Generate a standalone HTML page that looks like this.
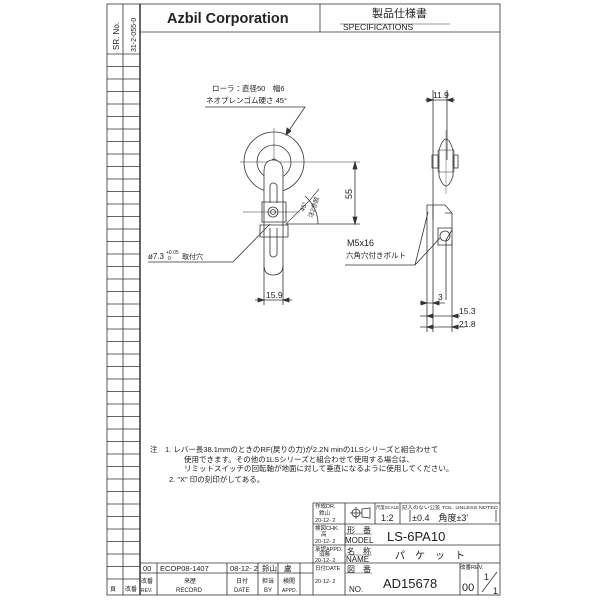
<!DOCTYPE html>
<html><head><meta charset="utf-8"><style>
html,body{margin:0;padding:0;background:#fff}
svg{display:block}
text{font-family:"Liberation Sans","Noto Sans CJK JP",sans-serif;fill:#222}
</style></head><body>
<svg width="600" height="600" viewBox="0 0 600 600" xmlns="http://www.w3.org/2000/svg">
<g stroke="#333" fill="none" stroke-width="0.8">
<rect x="107" y="4" width="393" height="591"/>
<line x1="140" y1="4" x2="140" y2="595" stroke-width="1.5"/>
<line x1="123" y1="4" x2="123" y2="595"/>
<line x1="140" y1="32" x2="500" y2="32"/>
<line x1="320" y1="4" x2="320" y2="32"/>
<line x1="340" y1="24" x2="450" y2="24" stroke-width="0.6"/>
<path d="M107 54H140M107 66.5H140M107 79H140M107 91.5H140M107 104H140M107 116.5H140M107 129H140M107 141.5H140M107 154H140M107 166.5H140M107 179H140M107 191.5H140M107 204H140M107 216.5H140M107 229H140M107 241.5H140M107 254H140M107 266.5H140M107 279H140M107 291.5H140M107 304H140M107 316.5H140M107 329H140M107 341.5H140M107 354H140M107 366.5H140M107 379H140M107 391.5H140M107 404H140M107 416.5H140M107 429H140M107 441.5H140M107 454H140M107 466.5H140M107 479H140M107 491.5H140M107 504H140M107 516.5H140M107 529H140M107 541.5H140M107 554H140M107 566.5H140M107 579H140"/>
<path d="M140 563H313M140 573H313M157 563V595M227 563V595M258 563V595M278 563V595M300 563V595"/>
<path d="M313 503H500M313 503V595M313 524H500M313 545H500M313 563H500M345 503V595M375 503V524M400 503V524M460 563V595M478 563V595M410 510V522M496 510V522"/>
<path d="M482 592L497 572" />
<path d="M345 534H372M345 555H372M345 573H372" stroke-width="0.5"/>
<circle cx="356" cy="513" r="4"/><path d="M350 513H362M356 507V519M362 509L370 508V518L362 517Z"/>

<circle cx="274" cy="162" r="30"/>
<circle cx="274" cy="162" r="17"/>
<circle cx="274" cy="162" r="3"/>
<path d="M240 162H360M274 128V180" stroke-width="0.5"/>
<path d="M264 172V265Q264 275 273 275Q283 275 283 265V172Q283 160 273 160Q264 160 264 172Z" fill="#fff"/>
<path d="M270 185V203M277 185V203M270 185Q273 181 277 185"/>
<path d="M262 202H286V222H262Z"/>
<circle cx="273" cy="212" r="5"/><circle cx="273" cy="212" r="2.5"/>
<path d="M260 225H288V237H260Z"/>
<path d="M270 228V255M277 228V255M270 255Q273 259 277 255"/>
<path d="M243 212H300" stroke-width="0.5"/>
<path d="M286 224H360M355 162V224"/>
<path d="M355 162l-2 7h4zM355 224l-2-7h4z" fill="#333"/>
<path d="M286 224L310 200M319 189L310 200" stroke-width="0.6"/>
<path d="M305 196Q318 208 318 224" />
<path d="M205 107H305L286 135"/>
<path d="M286 135l1-7 4 3z" fill="#333"/>
<path d="M148 262H233L270 224"/>
<path d="M264 265V305M283 265V305M255 300H292"/>
<path d="M264 300l-6-2v4zM283 300l6-2v4z" fill="#333"/>

<path d="M433 90V220M447 90V160M425 100H455"/>
<path d="M433 100l-6-2v4zM447 100l6-2v4z" fill="#333"/>
<path d="M439 150Q446 128 453 150V176Q446 196 439 176Z"/>
<path d="M438 150H454V172H438Z" stroke-width="0.5"/>
<path d="M432 155H438V168H432ZM454 155H458V168H454Z"/>
<path d="M446 130V194" stroke-width="0.4"/>
<path d="M427 205H445L452 213V230L446 240V300M427 205V300M433 205V300M452 213H445"/>
<path d="M438 228H452V245H438Z"/><circle cx="445" cy="236" r="5"/>
<path d="M345 265H415L428 212M415 265L440 238"/>
<path d="M427 300V332M433 300V332M452 240V332M420 303H445M420 316H460M420 327H465"/>
<path d="M427 303l-6-2v4zM433 303l6-2v4zM427 316l6-2v4zM452 316l6-2v4zM427 327l6-2v4zM452 327l6-2v4z" fill="#333"/>
</g>

<text x="167" y="23" font-size="14.5" font-weight="bold" fill="#111">Azbil Corporation</text>
<text x="372" y="17" font-size="11">製品仕様書</text>
<text x="343" y="30" font-size="8.5">SPECIFICATIONS</text>
<text transform="translate(119,50) rotate(-90)" font-size="8">SR. No.</text>
<text transform="translate(136,52) rotate(-90)" font-size="7">31-2-055-0</text>

<text x="212" y="91" font-size="7.5">ローラ：直径50　幅6</text>
<text x="206" y="103" font-size="7.5">ネオプレンゴム硬さ 45°</text>
<text transform="translate(352,199) rotate(-90)" font-size="9">55</text>
<text transform="translate(304,212) rotate(-70)" font-size="6.5">45°</text>
<text transform="translate(312,218) rotate(-70)" font-size="6">注2参照</text>
<text x="148" y="259" font-size="8">ø7.3</text>
<text x="166" y="254" font-size="5">+0.05</text>
<text x="168" y="260" font-size="5">0</text>
<text x="182" y="259" font-size="7">取付穴</text>
<text x="266" y="298" font-size="8.5">15.9</text>
<text x="433" y="98" font-size="8.5">11.9</text>
<text x="347" y="246" font-size="9">M5x16</text>
<text x="346" y="258" font-size="7.5">六角穴付きボルト</text>
<text x="438" y="300" font-size="8.5">3</text>
<text x="459" y="314" font-size="8.5">15.3</text>
<text x="459" y="327" font-size="8.5">21.8</text>

<g font-size="7.5">
<text x="150" y="452">注　1. レバー長38.1mmのときのRF(戻りの力)が2.2N minの1LSシリーズと組合わせて</text>
<text x="184" y="462">使用できます。その他の1LSシリーズと組合わせて使用する場合は、</text>
<text x="184" y="471">リミットスイッチの回転軸が地面に対して垂直になるように使用してください。</text>
<text x="169" y="482">2. "X" 印の刻印がしてある。</text>
</g>

<g font-size="7.5">
<text x="143" y="571">00</text>
<text x="160" y="571">ECOP08-1407</text>
<text x="230" y="571">08-12- 2</text>
<text x="262" y="571">鈴山</text>
<text x="284" y="571">盧</text>
</g>
<g font-size="6">
<text x="141" y="583">改番</text><text x="141" y="592" font-size="5">REV.</text>
<text x="184" y="583">来歴</text><text x="176" y="592">RECORD</text>
<text x="236" y="583">日付</text><text x="234" y="592">DATE</text>
<text x="262" y="583">担当</text><text x="264" y="592">BY</text>
<text x="283" y="583">検閲</text><text x="282" y="592" font-size="5">APPD.</text>
<text x="110" y="591">頁</text><text x="125" y="591">改番</text>
</g>
<g font-size="5.5">
<text x="315" y="508">作成DR.</text><text x="319" y="515">鈴山</text><text x="315" y="522">20-12- 2</text>
<text x="315" y="530">検図CHK.</text><text x="321" y="536">高</text><text x="315" y="543">20-12- 2</text>
<text x="315" y="551">承認APPD.</text><text x="319" y="556">須藤</text><text x="315" y="562">20-12- 2</text>
<text x="315" y="570">日付DATE</text><text x="315" y="583">20-12- 2</text>
<text x="376" y="509" font-size="4.5" textLength="23" lengthAdjust="spacingAndGlyphs">尺度SCALE</text>
<text x="402" y="509" font-size="4.5" textLength="96" lengthAdjust="spacingAndGlyphs">記入のない公差 TOL. UNLESS NOTED</text>
<text x="460" y="569">改番REV.</text>
</g>
<text x="381" y="521" font-size="9">1:2</text>
<text x="412" y="521" font-size="9">±0.4　角度±3'</text>
<text x="347" y="533" font-size="8">形　番</text>
<text x="345" y="543" font-size="8">MODEL</text>
<text x="387" y="541" font-size="13">LS-6PA10</text>
<text x="347" y="554" font-size="8">名　称</text>
<text x="346" y="562" font-size="8">NAME</text>
<text x="395" y="559" font-size="10">パ　ケ　ッ　ト</text>
<text x="347" y="572" font-size="8">図　番</text>
<text x="349" y="592" font-size="8">NO.</text>
<text x="383" y="588" font-size="13">AD15678</text>
<text x="462" y="591" font-size="11">00</text>
<text x="484" y="580" font-size="9">1</text>
<text x="493" y="594" font-size="9">1</text>
</svg>
</body></html>
